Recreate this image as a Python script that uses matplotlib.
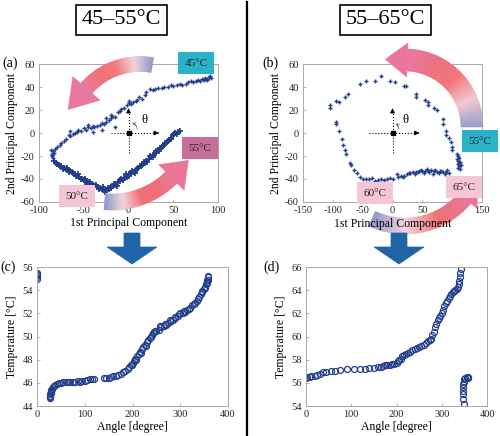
import numpy as np
import matplotlib
matplotlib.use('Agg')
import matplotlib.pyplot as plt
from matplotlib.patches import Polygon
from matplotlib.colors import LinearSegmentedColormap

plt.rcParams['font.family'] = ['Liberation Serif', 'DejaVu Serif']
plt.rcParams['axes.unicode_minus'] = False
plt.rcParams['mathtext.fontset'] = 'stix'

# ---- data ----
# (a) 45-55 C, upper branch (45C -> left) and lower branch (-> 55C)
pc1_a_up = [92, 90, 88, 86, 84, 82, 80, 78, 75, 72, 70, 67, 64, 60, 57, 54, 50, 47, 44, 40,
            37, 33, 30, 27, 24, 20, 18, 15, 12, 10, 8, 5, 3, 1, -2, -5, -8, -10, -12, -15,
            -18, -20, -22, -25, -27, -30, -32, -35, -38, -40, -42, -45, -48, -50, -53, -56,
            -58, -60, -62, -65, -67, -70, -72, -75, -77, -80, -82, -84, -86, -85, -84,
            -20, -25, 0, -45, -65, -40, -30, -15, 88, 85, 91, -83, -86, -87]
pc2_a_up = [48, 49, 47, 48, 46, 47, 45, 46, 45, 44, 45, 44, 43, 42, 43, 42, 41, 42, 40, 40,
            39, 39, 38, 37, 38, 36, 33, 30, 31, 29, 28, 27, 25, 26, 24, 22, 21, 19, 18, 14,
            15, 13, 11, 10, 8, 9, 7, 6, 5, 6, 4, 5, 3, 4, 2, 3,
            1, 0, -1, -3, -2, -5, -7, -9, -10, -12, -14, -16, -18, -20, -22,
            16, 13, 28, 7, 2, 1, 3, 5, 46, 47, 50, -17, -19, -15]
pc1_a_lo = [-83, -80, -78, -75, -72, -70, -68, -65, -62, -60, -58, -55, -52, -50, -48, -45,
            -42, -40, -38, -35, -32, -30, -28, -25, -22, -20, -18, -15, -12, -10, -8, -5,
            -2, 0, 3, 5, 8, 10, 13, 15, 18, 20, 23, 25, 28, 30, 33, 35, 38, 40, 43, 45,
            48, 50, 52, 55, 58,
            -81, -77, -73, -69, -66, -63, -59, -56, -53, -49, -46, -43, -39, -36, -33, -29,
            -26, -23, -19, -16, -13, -9, -6, -3, 1, 4, 7, 11, 14, 17, 21, 24, 27, 31, 34,
            37, 41, 44, 47, 51, 54]
pc2_a_lo = [-24, -27, -28, -29, -30, -31, -32, -33, -35, -36, -37, -38, -40, -41, -42, -43,
            -44, -45, -46, -47, -48, -49, -50, -50, -49, -47, -46, -45, -43, -42, -40, -39,
            -38, -36, -35, -34, -32, -31, -29, -28, -26, -24, -23, -21, -19, -17, -15, -13,
            -11, -10, -8, -6, -4, -2, 0, 1, 2,
            -26, -29, -31, -30, -34, -34, -37, -36, -40, -40, -44, -43, -46, -45, -49, -47,
            -51, -48, -48, -44, -46, -41, -41, -36, -37, -33, -35, -30, -29, -25, -25, -20,
            -21, -16, -16, -12, -9, -7, -5, -1, -1]

# (b) 55-65 C
pc1_b = [-105, -105, -95, -90, -80, -75, -55, -45, -30, -20, -5, 5, 20, 22, 40, 40, 55, 60,
         60, 70, 75, 85, 85, 90, 90, 95, 98, 100, 100,
         108, 110, 112, 110, 113, 111, 109, 114, 112, 110, 108, 113,
         -95, -95, -90, -85, -83, -80, -78, -72, -70, -65, -60, -55, -50, -45, -40, -30,
         -20, -10, 0, 10, 15, 20, 25, 30, 35, 40, 45, 50, 55, 60, 65, 70, 75, 80, 85, 90,
         95, 92, 88, 82, 78, 72, 68, 62, 58, 52, 47, 43, 38, 28, 18, 8, -5, -15, -25, -35]
pc2_b = [24, 22, 28, 27, 31, 34, 43, 45, 45, 50, 45, 44, 41, 41, 34, 31, 29, 27,
         24, 22, 20, 12, 8, 2, -2, -4, -8, -12, -15,
         -18, -20, -22, -24, -25, -26, -27, -28, -29, -30, -23, -31,
         10, 8, 2, -5, -10, -15, -18, -26, -28, -32, -35, -38, -40, -40, -40, -42,
         -40, -40, -40, -38, -37, -37, -36, -35, -34, -34, -33, -33, -33, -33, -32, -33,
         -34, -33, -34, -34, -35, -32, -36, -33, -35, -32, -36, -34, -31, -35, -32, -34,
         -36, -35, -38, -36, -39, -41, -41, -39]

# (c) angle vs temperature, 45-55 C
ang_c = [0, 0, 1, 0, 1,
         28, 28, 29, 29, 30, 31, 33, 35, 38, 42, 46, 50, 55, 60, 65, 70, 75, 80, 85, 90,
         95, 100, 105, 110, 115, 120,
         140, 145, 150, 155, 160, 165, 170, 175, 180, 185, 190, 193, 196, 200, 203, 206,
         210, 213, 216, 220, 223, 226, 230, 233, 236, 240, 243, 246, 250, 255, 260, 265,
         270, 275, 280, 285, 290, 295, 300, 305, 310, 315, 320, 325, 330, 335, 340, 343,
         346, 349, 352, 354, 356, 357, 358, 359,
         198, 208, 218, 228, 238, 248, 258, 268, 278, 288, 298, 308, 318, 328, 338, 345,
         351, 355, 358, 27, 28, 29]
temp_c = [55.5, 55.3, 55.1, 55.0, 55.4,
          44.7, 44.9, 45.1, 45.3, 45.4, 45.5, 45.6, 45.7, 45.8, 45.9, 46.0, 46.0, 46.05,
          46.1, 46.1, 46.1, 46.1, 46.1, 46.15, 46.1, 46.2, 46.2, 46.25, 46.3, 46.3, 46.3,
          46.4, 46.4, 46.45, 46.5, 46.55, 46.6, 46.7, 46.8, 46.9, 47.0, 47.2, 47.4, 47.5,
          47.7, 47.9, 48.1, 48.3, 48.5, 48.7, 48.9, 49.1, 49.3, 49.5, 49.7, 49.9, 50.1,
          50.3, 50.4, 50.5, 50.6, 50.8, 50.9, 51.0, 51.2, 51.3, 51.4, 51.6, 51.8, 52.0,
          52.0, 52.1, 52.3, 52.5, 52.7, 52.9, 53.1, 53.4, 53.7, 53.9, 54.1, 54.3, 54.5,
          54.7, 54.9, 55.1, 55.2,
          47.5, 48.0, 48.6, 49.2, 50.0, 50.5, 50.9, 51.1, 51.4, 51.7, 51.9, 52.2, 52.4,
          52.8, 53.2, 53.8, 54.2, 54.6, 54.9, 44.8, 45.0, 45.2]

# (d) angle vs temperature, 55-65 C
ang_d = [0, 3, 8, 12, 20, 25, 32, 38, 45, 55, 65, 75, 90, 105, 120, 130, 140, 150, 160,
         165, 170, 175, 180, 185, 190, 195, 200, 203, 206, 210, 213, 216, 220, 225, 230,
         235, 240, 245, 250, 255, 260, 265, 270, 273, 276, 279, 282, 285, 288, 291, 294,
         297, 300, 303, 306, 309, 312, 315, 318, 321, 324, 327, 330, 333, 336, 338, 339,
         340, 341, 342,
         350, 348, 347, 347, 347, 348, 349, 350, 352, 355, 357, 358]
temp_d = [56.4, 56.5, 56.5, 56.6, 56.6, 56.7, 56.8, 56.9, 56.9, 57.0, 57.05, 57.1, 57.2,
          57.2, 57.2, 57.2, 57.25, 57.3, 57.4, 57.4, 57.45, 57.5, 57.5, 57.55, 57.6, 57.65,
          57.7, 57.9, 58.0, 58.1, 58.3, 58.4, 58.5, 58.6, 58.7, 58.8, 58.9, 59.0, 59.1,
          59.2, 59.3, 59.45, 59.6, 59.7, 59.8, 60.1, 60.4, 60.8, 61.1, 61.4, 61.6, 61.8,
          62.0, 62.3, 62.6, 62.9, 63.1, 63.3, 63.5, 63.7, 63.8, 63.9, 64.0, 64.1, 64.3,
          64.5, 64.8, 65.1, 65.5, 65.8,
          54.2, 54.6, 55.0, 55.3, 55.6, 55.9, 56.1, 56.3, 56.4, 56.5, 56.5, 56.4]

blue = '#233f8c'
sp_col = '#a8a8a8'


def style(ax):
    for s in ax.spines.values():
        s.set_color(sp_col)
        s.set_linewidth(0.7)
    ax.tick_params(direction='in', length=2.5, width=0.6, color=sp_col,
                   labelsize=7.5, labelcolor='#222222', pad=3)


fig = plt.figure(figsize=(5, 4.36), dpi=100)

ax_a = fig.add_axes([0.078, 0.5367, 0.358, 0.3165])
ax_a.plot(pc1_a_up, pc2_a_up, '+', color=blue, ms=3.5, mew=1.0)
ax_a.plot(pc1_a_lo, pc2_a_lo, '+', color=blue, ms=4, mew=1.3)
ax_a.set_xlim(-100, 100)
ax_a.set_ylim(-60, 60)
ax_a.set_xticks(np.arange(-100, 101, 50))
ax_a.set_yticks(np.arange(-60, 61, 20))
ax_a.set_ylabel('2nd Principal Component', fontsize=8.5, labelpad=2)

ax_b = fig.add_axes([0.606, 0.5367, 0.358, 0.3165])
ax_b.plot(pc1_b, pc2_b, '+', color=blue, ms=3.5, mew=1.0)
ax_b.set_xlim(-150, 150)
ax_b.set_ylim(-60, 60)
ax_b.set_xticks(np.arange(-150, 151, 50))
ax_b.set_yticks(np.arange(-60, 61, 20))
ax_b.set_ylabel('2nd Principal Component', fontsize=8.5, labelpad=2)

for ax, xl, xr in [(ax_a, -20, 37), (ax_b, -39, 45)]:
    style(ax)
    ax.plot([xl, xr - 6], [0, 0], ':', color='k', lw=0.8)
    ax.plot([0, 0], [-17, 18], ':', color='k', lw=0.8)
    ax.annotate('', xy=(xr, 0), xytext=(xr - 7, 0),
                arrowprops=dict(arrowstyle='-|>', color='k', lw=0.6, mutation_scale=7))
    ax.annotate('', xy=(0, 24), xytext=(0, 17),
                arrowprops=dict(arrowstyle='-|>', color='k', lw=0.6, mutation_scale=7))
    ax.plot(0, 0, 's', color='k', ms=2.5)
    ax.annotate('', xy=(1, 9), xytext=(10, 1),
                arrowprops=dict(arrowstyle='->', color='#444444', lw=0.5,
                                connectionstyle='arc3,rad=0.5', mutation_scale=5))
    ax.text(14 if ax is ax_a else 17, 11, 'θ', fontsize=9, va='center', ha='left')

ax_a.set_xlabel('1st Principal Component', fontsize=8.5, labelpad=1)

ax_c = fig.add_axes([0.074, 0.0688, 0.382, 0.3188])
ax_c.plot(ang_c, temp_c, 'o', mfc='none', mec=blue, ms=4.3, mew=0.9)
ax_c.set_xlim(0, 400)
ax_c.set_ylim(44, 56)
ax_c.set_xticks(np.arange(0, 401, 100))
ax_c.set_yticks(np.arange(44, 57, 2))
ax_c.set_xlabel('Angle [degree]', fontsize=8.5, labelpad=1)
ax_c.set_ylabel('Temperature [°C]', fontsize=8.5, labelpad=3)
style(ax_c)

ax_d = fig.add_axes([0.612, 0.0688, 0.362, 0.3188])
ax_d.plot(ang_d, temp_d, 'o', mfc='none', mec=blue, ms=4.3, mew=0.9)
ax_d.set_xlim(0, 400)
ax_d.set_ylim(54, 66)
ax_d.set_xticks(np.arange(0, 401, 100))
ax_d.set_yticks(np.arange(54, 67, 2))
ax_d.set_xlabel('Angle [degree]', fontsize=8.5, labelpad=1)
ax_d.set_ylabel('Temperature [°C]', fontsize=8.5, labelpad=3)
style(ax_d)

# ---- overlay in pixel units for arrows, labels, divider ----
ov = fig.add_axes([0, 0, 1, 1], zorder=1)
ov.set_xlim(0, 500)
ov.set_ylim(436, 0)
ov.axis('off')


def arc_arrow(cx, cy, r, w, a0, a1, colors, head_len, head_w):
    cmap = LinearSegmentedColormap.from_list('g', colors)
    n = 80
    angs = np.radians(np.linspace(a0, a1, n + 1))
    ri, ro = r - w / 2, r + w / 2
    for i in range(n):
        t0, t1 = angs[i], angs[i + 1]
        pts = [(cx + ri * np.cos(t0), cy - ri * np.sin(t0)),
               (cx + ro * np.cos(t0), cy - ro * np.sin(t0)),
               (cx + ro * np.cos(t1), cy - ro * np.sin(t1)),
               (cx + ri * np.cos(t1), cy - ri * np.sin(t1))]
        c = cmap(i / n)
        ov.add_patch(Polygon(pts, fc=c, ec=c, lw=0.4, zorder=2))
    te = angs[-1]
    s = np.sign(a1 - a0)
    d = np.array([-np.sin(te), -np.cos(te)]) * s
    nrm = np.array([np.cos(te), -np.sin(te)])
    base = np.array([cx + r * np.cos(te), cy - r * np.sin(te)])
    tip = base + head_len * d
    head = [base + nrm * head_w / 2, tip, base - nrm * head_w / 2]
    ov.add_patch(Polygon(head, fc=colors[-1], ec=colors[-1], lw=0.4, zorder=2))


arc_arrow(140, 135, 71, 15, 80, 139,
          ['#8f98c7', '#f2d2dc', '#f2777a', '#ee6e78', '#e9789c'], 28, 36)
arc_arrow(112, 118, 84, 16, -95, -45,
          ['#8d97c8', '#f3d3dc', '#ef6f70', '#ee6c77', '#ea7598'], 24, 36)
arc_arrow(405, 127, 67, 22, 0, 88,
          ['#959cc8', '#f2c8d2', '#f07475', '#ec6f80', '#e8769c'], 22, 34)
arc_arrow(405, 148, 78, 16, -115, -40,
          ['#8d97c8', '#f3d3dc', '#ef6f70', '#ea7598'], 20, 32)

# big blue down arrows
for xc in [132, 399]:
    ov.add_patch(Polygon([(xc - 8, 233), (xc + 8, 233), (xc + 8, 247), (xc + 25, 247),
                          (xc, 264), (xc - 25, 247), (xc - 8, 247)],
                         fc='#2064a8', ec='#2064a8', lw=0.5, zorder=2))

# divider
ov.plot([247, 247], [2, 436], color='k', lw=1.6, zorder=2)

# temperature tags
tags = [(196, 63, '45°C', '#2ab3c8'), (200, 148, '55°C', '#c86f99'),
        (77, 196, '50°C', '#f6c6d6'), (480, 141, '55°C', '#2ab3c8'),
        (464, 187, '65°C', '#f6c6d6'), (375, 193, '60°C', '#f6c6d6')]
for x, y, t, c in tags:
    ov.text(x, y, t, fontsize=8, ha='center', va='center', color='#222222', zorder=5,
            bbox=dict(boxstyle='square,pad=0.55', fc=c, ec='none'))

# panel letters
for x, y, t in [(2, 63, '(a)'), (262, 63, '(b)'), (0, 267, '(c)'), (263, 267, '(d)')]:
    ov.text(x, y, t, fontsize=10, ha='left', va='center', zorder=5)

# headers
fig.text(121.5 / 500, 1 - 20 / 436, '45–55°C', fontsize=16, ha='center', va='center',
         bbox=dict(boxstyle='square,pad=0.25', fc='white', ec='black', lw=1.2))
fig.text(385.5 / 500, 1 - 20 / 436, '55–65°C', fontsize=16, ha='center', va='center',
         bbox=dict(boxstyle='square,pad=0.25', fc='white', ec='black', lw=1.2))

# x label of (b) sits on top of the lower arrow
fig.text(392.5 / 500, 1 - 224 / 436, '1st Principal Component', fontsize=8.5,
         ha='center', va='center')

fig.savefig('out.png', dpi=100)
